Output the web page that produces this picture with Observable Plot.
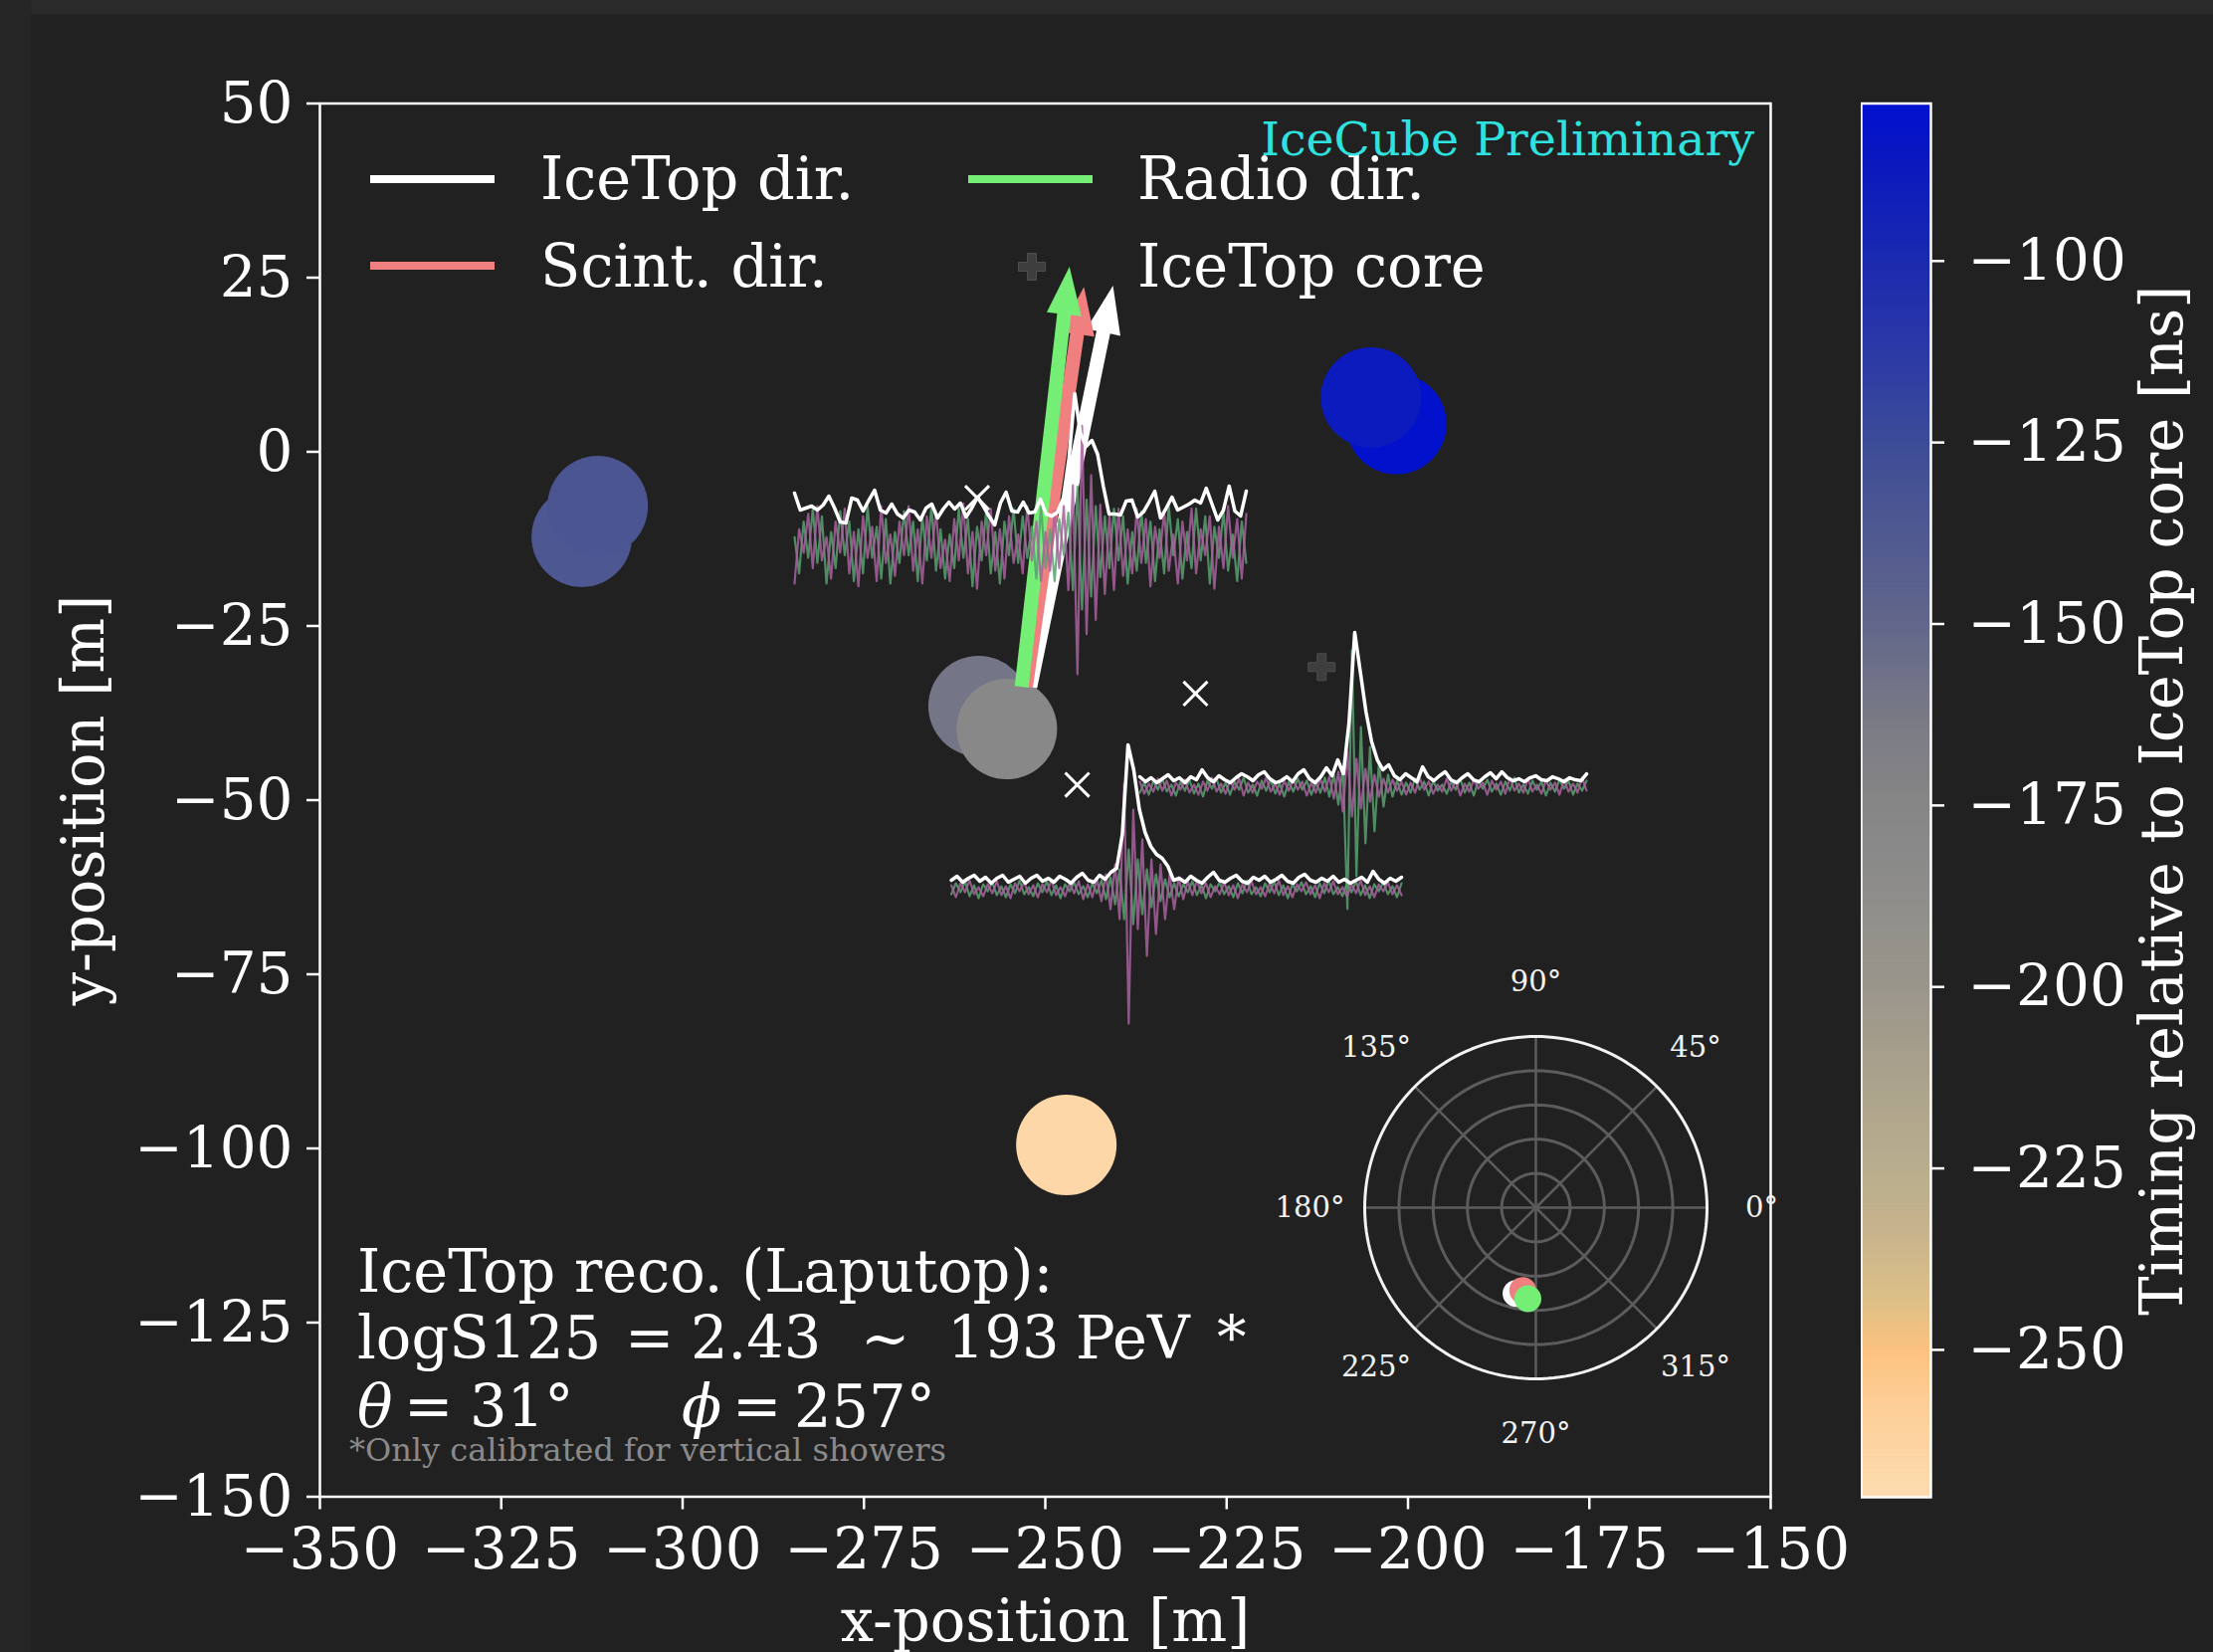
<!DOCTYPE html>
<html>
<head>
<meta charset="utf-8">
<script src="https://cdn.jsdelivr.net/npm/d3@7"></script>
<script src="https://cdn.jsdelivr.net/npm/@observablehq/plot@0.6"></script>
<style>
  html, body { margin: 0; padding: 0; background: #212121; }
  #wrap { position: relative; width: 2224px; height: 1660px; overflow: hidden; background: #212121; }
  #wrap > * { position: absolute; }
  .band-top { left: 0; top: 0; width: 2224px; height: 14px; background: #2a2a2a; }
  .band-left { left: 0; top: 0; width: 31px; height: 1660px; background: #262626; }
</style>
</head>
<body>
<div id="wrap"><div class="band-top"></div><div class="band-left"></div></div>
<script>
// ---------------- data ----------------
const xTicks = [-350, -325, -300, -275, -250, -225, -200, -175, -150];
const yTicks = [-150, -125, -100, -75, -50, -25, 0, 25, 50];
const cbTicks = [-250, -225, -200, -175, -150, -125, -100];

// IceTop tanks: position [m] and timing relative to IceTop core [ns]
const tankX = [-313.9, -311.7, -259.2, -255.3, -201.6, -205.1, -247.1];
const tankY = [-12.2, -7.8, -36.5, -39.8, 4.0, 7.8, -99.5];
const tankT = [-136, -134, -160, -179, -80, -88, -266];

// radio antennas
const antennaX = [-259.4, -229.3, -245.6];
const antennaY = [-6.6, -34.7, -47.8];

// IceTop core
const coreX = [-211.9];
const coreY = [-30.9];

// direction arrows (start / tip, in m)
const arrowName = ["IceTop dir.", "Scint. dir.", "Radio dir."];
const arrowColor = ["#ffffff", "#f08080", "#74ee74"];
const arrowX1 = [-252.0, -252.6, -253.2];
const arrowY1 = [-33.8, -33.8, -33.8];
const arrowX2 = [-240.6, -244.6, -246.6];
const arrowY2 = [23.8, 23.6, 26.5];

// polar inset: zenith / azimuth of the three reconstructions
const polarName = ["IceTop", "Scint", "Radio"];
const polarTheta = [31, 29.3, 32.3];
const polarPhi = [257, 261, 265];
const polarColor = ["#ffffff", "#f08080", "#74ee74"];
const polarAngleTicks = [0, 45, 90, 135, 180, 225, 270, 315];
const polarRings = [0.2, 0.4, 0.6, 0.8];

// colour map of the timing colorbar
const cmapValues = [-270.3, -258, -250, -243, -234, -225, -210, -200, -182, -175, -163, -150, -137.5, -125, -111.5, -100, -86, -78.3];
const cmapColors = ["#fddcb0", "#fdcf98", "#fcc27f", "#dcc088", "#c8b48c", "#b8ae8e", "#a89f8c", "#9a968c", "#8a8a8a", "#868686", "#7a7a86", "#62678a", "#4f5990", "#3d4c98", "#2a38a8", "#1b2aae", "#0a18c0", "#0010d0"];

// radio waveforms (arbitrary amplitude units): Hilbert envelope + two polarisations
const trace1Env = [35,18,20,22,18,23,32,20,6,5, 30,28,17,28,38,18,15,24,14,10, 18,16,8,20,24,10,19,26,19,25, 11,20,31,22,12,3,25,36,17,16, 26,15,16,29,14,12,16,30,70,135, 95,82,88,74,42,14,14,13,27,28, 11,16,26,37,10,20,31,18,21,24, 28,25,40,24,8,18,42,17,12,37];
const trace1Pol1 = [-30,12,-6,24,-18,30,-12,6,-26,18, -6,28,-22,10,-32,22,-10,14,-28,30, -14,8,-24,18,-8,30,-20,12,-30,22, -10,26,-18,4,-28,20,-12,32,-22,10, -34,18,-8,28,-20,12,-26,22,-14,8, -22,30,-12,18,-28,10,-20,26,-18,30, -35,46,-100,92,-69,54,-58,31,-38,23, -35,28,-24,12,-22,28,-14,20,-32,14, -10,26,-20,8,-30,18,-12,28,-22,12, -8,22,-34,14,-18,30,-10,20,-26,24];
const trace1Pol2 = [6,-22,18,-10,28,-14,22,-30,10,-18, 26,-8,18,-28,12,-22,30,-10,14,-26, 20,-30,10,-14,26,-8,18,-28,22,-12, 30,-20,12,-26,8,-18,28,-10,20,-32, 14,-12,26,-22,10,-30,18,-8,28,-14, 22,-10,14,-26,30,-18,12,-28,20,-8, 25,-35,45,-50,35,-40,30,-25,22,-18, 28,-12,22,-30,10,-20,26,-14,18,-28, 12,-22,30,-8,20,-26,10,-18,28,-12, 22,-30,14,-10,26,-20,8,-28,18,-14];

const trace2Env = [15,10,14,9,13,17,11,14,9,15, 12,22,14,10,16,12,9,14,18,15, 11,17,20,13,9,11,15,10,18,22, 13,9,15,24,16,32,18,70,160,120, 80,50,32,22,27,16,12,18,14,10, 25,15,11,16,20,12,9,14,18,12, 10,15,19,13,20,14,11,13,10,14, 16,12,11,15,13,10,14,12,11,18];
const trace2Pol1 = [5,-7,3,-5,8,-4,6,-9,4,-3, 7,-6,2,-8,5,-4,9,-5,3,-7, 6,-3,8,-9,4,-6,5,-2,9,-5, 3,-8,6,-4,7,-3,5,-9,4,-6, 8,-5,10,-12,15,-25,35,-30,28,-22, 18,-15,12,-10,8,-6,7,-4,5,-8, 4,-6,9,-3,5,-7,2,-5,8,-4, 6,-9,3,-5,7,-2,4,-8,6,-3, 5,-7,9,-4,3,-6,8,-5,2,-7, 6,-3,4,-8,7,-5,3,-6,9,-4];
const trace2Pol2 = [-6,4,-8,6,-3,8,-5,2,-9,5, -4,7,-7,3,-10,6,-2,8,-6,4, -8,5,-3,9,-6,2,-9,6,-4,7, -7,3,-10,5,-5,8,-3,6,-8,4, -6,9,-10,12,-18,20,-123,137,-90,60, -57,40,-45,25,-20,12,-10,6,-8,4, -6,8,-3,5,-9,6,-4,2,-7,5, -3,8,-6,4,-9,6,-2,7,-5,3, -8,5,-4,9,-6,2,-7,6,-3,5, -9,4,-5,7,-2,6,-8,3,-4,6];

const trace3Env = [14,18,12,16,19,13,17,11,16,19, 12,15,18,11,16,19,13,16,12,18, 15,11,17,21,14,12,19,15,22,26, 60,150,125,85,62,48,40,36,28,14, 16,12,18,14,11,17,22,14,12,16, 19,13,11,17,14,18,12,15,19,13, 11,17,20,14,12,16,13,18,12,15, 11,14,17,12,23,15,11,16,13,17];
const trace3Pol1 = [4,-8,6,-3,9,-5,2,-7,5,-4, 8,-6,3,-9,6,-2,7,-5,4,-8, 5,-3,9,-6,2,-7,6,-4,8,-10, 5,-8,10,-12,15,-20,25,-30,106,-135, 80,-40,50,-67,30,-45,25,-30,15,-20, 12,-10,8,-6,9,-4,6,-8,3,-5, 7,-6,4,-9,5,-3,8,-5,2,-7, 6,-4,9,-6,3,-8,5,-2,7,-5, 4,-9,6,-3,8,-5,2,-7,5,-4, 9,-6,3,-8,5,-2,7,-5,4,-6];
const trace3Pol2 = [-5,6,-3,8,-7,4,-9,5,-2,7, -6,3,-8,5,-4,9,-5,2,-7,6, -3,8,-6,4,-9,5,-2,7,-5,3, -8,6,-4,9,-10,12,-15,20,-30,40, -35,30,-25,20,-18,15,-12,10,-8,6, -7,5,-3,8,-6,4,-9,5,-2,7, -5,3,-8,6,-4,9,-5,2,-7,6, -3,8,-6,4,-9,5,-2,7,-5,3, -8,6,-4,9,-5,2,-7,6,-3,8, -6,4,-9,5,-2,7,-5,3,-8,6];

// text
const legendLabels = ["IceTop dir.", "Radio dir.", "Scint. dir.", "IceTop core"];
const xLabel = "x-position [m]";
const yLabel = "y-position [m]";
const cbLabel = "Timing relative to IceTop core [ns]";
const watermark = "IceCube Preliminary";
const recoTitle = "IceTop reco. (Laputop):";
const recoEnergyParts = ["logS125", "=", "2.43", "~", "193", "PeV", "*"];
const recoAngleParts = ["θ", "=", "31°", "ϕ", "=", "257°"];
const footnote = "*Only calibrated for vertical showers";

// ---------------- layout (positions / styles) ----------------
const W = 2224, H = 1660;
const FONT = "'DejaVu Serif', serif";
const TXT = 59;
const frame = {left: 321, right: 1779, top: 103.5, bottom: 1503.5};
const traceLayout = [
  {env: trace1Env, pol1: trace1Pol1, pol2: trace1Pol2, x0: -284.57, x1: -222.29, envBase: -10.93, chBase: -13.36, chGain: 1.3},
  {env: trace2Env, pol1: trace2Pol1, pol2: trace2Pol2, x0: -236.97, x1: -175.38, envBase: -48.79, chBase: -48.07, chGain: 1},
  {env: trace3Env, pol1: trace3Pol1, pol2: trace3Pol2, x0: -262.95, x1: -200.89, envBase: -63.5, chBase: -62.79, chGain: 1}
];
const ampScale = 1 / 7; // metres per amplitude unit on the map

const tanks = tankX.map((x, i) => ({x, y: tankY[i], t: tankT[i]}));
const antennas = antennaX.map((x, i) => ({x, y: antennaY[i]}));
const cores = coreX.map((x, i) => ({x, y: coreY[i]}));
const arrows = arrowName.map((name, i) => ({name, color: arrowColor[i], x1: arrowX1[i], y1: arrowY1[i], x2: arrowX2[i], y2: arrowY2[i]}));

function wave(values, lay, base, gain, id) {
  const n = values.length;
  return values.map((v, i) => ({id, x: lay.x0 + (lay.x1 - lay.x0) * i / (n - 1), y: base + v * gain * ampScale}));
}
const pol1Pts = traceLayout.flatMap((lay, k) => wave(lay.pol1, lay, lay.chBase, lay.chGain, k));
const pol2Pts = traceLayout.flatMap((lay, k) => wave(lay.pol2, lay, lay.chBase, lay.chGain, k));
const envPts = traceLayout.flatMap((lay, k) => wave(lay.env, lay, lay.envBase, 1, k));

const colorScale = {type: "linear", domain: cmapValues, range: cmapColors, interpolate: "rgb", clamp: true};

const SHAFT = 7, HEAD_W = 17.5, HEAD_L = 48;
function arrowShapes(data) {
  return Plot.link(data, {
    x1: "x1", y1: "y1", x2: "x2", y2: "y2",
    render(index, scales, values) {
      const g = d3.create("svg:g");
      for (const i of index) {
        const X1 = values.x1[i], Y1 = values.y1[i], X2 = values.x2[i], Y2 = values.y2[i];
        const L = Math.hypot(X2 - X1, Y2 - Y1);
        const ux = (X2 - X1) / L, uy = (Y2 - Y1) / L, nx = -uy, ny = ux;
        const bx = X2 - ux * HEAD_L, by = Y2 - uy * HEAD_L;
        const pts = [
          [X1 + nx * SHAFT, Y1 + ny * SHAFT], [bx + nx * SHAFT, by + ny * SHAFT], [bx + nx * HEAD_W, by + ny * HEAD_W],
          [X2, Y2],
          [bx - nx * HEAD_W, by - ny * HEAD_W], [bx - nx * SHAFT, by - ny * SHAFT], [X1 - nx * SHAFT, Y1 - ny * SHAFT]
        ];
        g.append("polygon").attr("points", pts.map(p => p.join(",")).join(" ")).attr("fill", data[i].color);
      }
      return g.node();
    }
  });
}

const wrap = document.getElementById("wrap");

// ---------------- main map ----------------
const main = Plot.plot({
  width: W, height: H,
  marginLeft: frame.left, marginRight: W - frame.right, marginTop: frame.top, marginBottom: H - frame.bottom,
  style: {background: "transparent", color: "white", fontFamily: FONT, maxWidth: "none"},
  x: {domain: [-350, -150]},
  y: {domain: [-150, 50]},
  color: colorScale,
  marks: [
    Plot.dot(tanks, {x: "x", y: "y", r: 50.5, fill: "t"}),
    arrowShapes(arrows),
    Plot.line(pol2Pts, {x: "x", y: "y", z: "id", stroke: "#58a070", strokeWidth: 2.2, strokeOpacity: 0.85}),
    Plot.line(pol1Pts, {x: "x", y: "y", z: "id", stroke: "#a8609e", strokeWidth: 2.2, strokeOpacity: 0.85}),
    Plot.line(envPts, {x: "x", y: "y", z: "id", stroke: "white", strokeWidth: 3.5}),
    Plot.dot(antennas, {x: "x", y: "y", symbol: "times", r: 11, stroke: "white", strokeWidth: 3}),
    Plot.dot(cores, {x: "x", y: "y", symbol: "cross", r: 11.4, fill: "#3e3e3e", stroke: "#4e4e4e", strokeWidth: 1}),
    Plot.frame({stroke: "white", strokeWidth: 2.5}),
    Plot.axisX(xTicks, {tickSize: 13, tickPadding: 18, fontSize: 58, strokeWidth: 2.5, label: null}),
    Plot.axisY(yTicks, {tickSize: 13, tickPadding: 14, fontSize: 58, strokeWidth: 2.5, label: null}),
    Plot.text([xLabel], {frameAnchor: "bottom", dy: 144.5, textAnchor: "middle", lineAnchor: "bottom", text: d => d, fontSize: TXT, fill: "white"}),
    Plot.text([yLabel], {frameAnchor: "left", dx: -218, rotate: -90, textAnchor: "middle", lineAnchor: "bottom", text: d => d, fontSize: TXT, fill: "white"})
  ]
});
main.style.left = "0px"; main.style.top = "0px";
wrap.appendChild(main);

// ---------------- colorbar ----------------
const cbMin = cmapValues[0], cbMax = cmapValues[cmapValues.length - 1];
const cbCells = d3.range(cbMin, cbMax, 0.5);
const cbLeft = 1870, cbWidth = 70;
const cb = Plot.plot({
  width: W - cbLeft, height: H,
  marginLeft: 0, marginRight: W - cbLeft - cbWidth, marginTop: 103.5, marginBottom: 156,
  style: {background: "transparent", color: "white", fontFamily: FONT, maxWidth: "none"},
  x: {domain: [0, 1], axis: null},
  y: {domain: [cbMin, cbMax]},
  color: colorScale,
  marks: [
    Plot.rect(cbCells, {x1: 0, x2: 1, y1: d => d, y2: d => Math.min(d + 0.6, cbMax), fill: d => d + 0.25}),
    Plot.frame({stroke: "white", strokeWidth: 2.5}),
    Plot.axisY(cbTicks, {anchor: "right", tickSize: 13, tickPadding: 24, fontSize: 58, strokeWidth: 2.5, label: null}),
    Plot.text([cbLabel], {frameAnchor: "right", dx: 252, rotate: -90, textAnchor: "middle", lineAnchor: "bottom", text: d => d, fontSize: TXT, fill: "white"})
  ]
});
cb.style.left = cbLeft + "px"; cb.style.top = "0px";
wrap.appendChild(cb);

// ---------------- polar inset ----------------
const PR = 172, PS = 520, PCX = 1543, PCY = 1213;
const half = PS / 2 / PR;
const rad = a => a * Math.PI / 180;
const ringPts = polarRings.flatMap(r => d3.range(0, 361, 3).map(a => ({r, x: r * Math.cos(rad(a)), y: r * Math.sin(rad(a))})));
const outerPts = d3.range(0, 361, 2).map(a => ({x: Math.cos(rad(a)), y: Math.sin(rad(a))}));
const spokes = polarAngleTicks.map(a => ({a, x: Math.cos(rad(a)), y: Math.sin(rad(a))}));
const polarPts = polarName.map((n, i) => ({n, color: polarColor[i], x: Math.sin(rad(polarTheta[i])) * Math.cos(rad(polarPhi[i])), y: Math.sin(rad(polarTheta[i])) * Math.sin(rad(polarPhi[i]))}));
const polar = Plot.plot({
  width: PS, height: PS, margin: 0,
  style: {background: "transparent", color: "white", fontFamily: FONT, maxWidth: "none"},
  x: {domain: [-half, half], axis: null},
  y: {domain: [-half, half], axis: null},
  marks: [
    Plot.line(ringPts, {x: "x", y: "y", z: "r", stroke: "#5c5c5c", strokeWidth: 3}),
    Plot.link(spokes, {x1: 0, y1: 0, x2: "x", y2: "y", stroke: "#5c5c5c", strokeWidth: 2.5}),
    Plot.line(outerPts, {x: "x", y: "y", stroke: "#f2f2f2", strokeWidth: 3}),
    Plot.text(spokes, {x: d => 1.32 * d.x, y: d => 1.32 * d.y, text: d => d.a + "°", fontSize: 29, fill: "#f2f2f2"}),
    Plot.dot(polarPts, {x: "x", y: "y", r: 13.5, fill: "color"})
  ]
});
polar.style.left = (PCX - PS / 2) + "px"; polar.style.top = (PCY - PS / 2) + "px";
wrap.appendChild(polar);

// ---------------- legend & annotations ----------------
const ov = d3.create("svg").attr("width", W).attr("height", H).attr("font-family", FONT)
  .style("left", "0px").style("top", "0px").style("pointer-events", "none");
const legCols = [372, 973], legTextX = [543, 1143], legLineY = [180, 267], legBase = [200, 288];
const legendKinds = [
  {label: legendLabels[0], color: arrowColor[0], col: 0, row: 0},
  {label: legendLabels[1], color: arrowColor[2], col: 1, row: 0},
  {label: legendLabels[2], color: arrowColor[1], col: 0, row: 1},
  {label: legendLabels[3], color: null, col: 1, row: 1}
];
for (const it of legendKinds) {
  const x0 = legCols[it.col];
  if (it.color) {
    ov.append("line").attr("x1", x0).attr("x2", x0 + 125).attr("y1", legLineY[it.row]).attr("y2", legLineY[it.row])
      .attr("stroke", it.color).attr("stroke-width", 8);
  } else {
    ov.append("path").attr("d", d3.symbol(d3.symbolCross, 405)()).attr("transform", `translate(1037,${legLineY[it.row] + 1})`)
      .attr("fill", "#3e3e3e").attr("stroke", "#4e4e4e").attr("stroke-width", 1);
  }
  ov.append("text").attr("x", legTextX[it.col]).attr("y", legBase[it.row]).attr("font-size", TXT).attr("fill", "white").text(it.label);
}
ov.append("text").attr("x", 1763).attr("y", 156).attr("text-anchor", "end").attr("font-size", 47.5).attr("fill", "#2fe2df").text(watermark);

ov.append("text").attr("x", 359).attr("y", 1298).attr("font-size", TXT).attr("fill", "white").text(recoTitle);
const energyX = [359, 628, 694, 865, 952, 1081, 1223];
const l2 = ov.append("text").attr("y", 1365).attr("font-size", TXT).attr("fill", "white");
recoEnergyParts.forEach((p, i) => l2.append("tspan").attr("x", energyX[i]).text(p));
const angleX = [359, 406, 472, 685, 736, 798];
const l3 = ov.append("text").attr("y", 1434).attr("font-size", TXT).attr("fill", "white");
recoAngleParts.forEach((p, i) => l3.append("tspan").attr("x", angleX[i]).attr("font-style", (i === 0 || i === 3) ? "italic" : null).text(p));
ov.append("text").attr("x", 351).attr("y", 1468).attr("font-size", 32).attr("fill", "#8a8a8a").text(footnote);
wrap.appendChild(ov.node());
</script>
</body>
</html>
